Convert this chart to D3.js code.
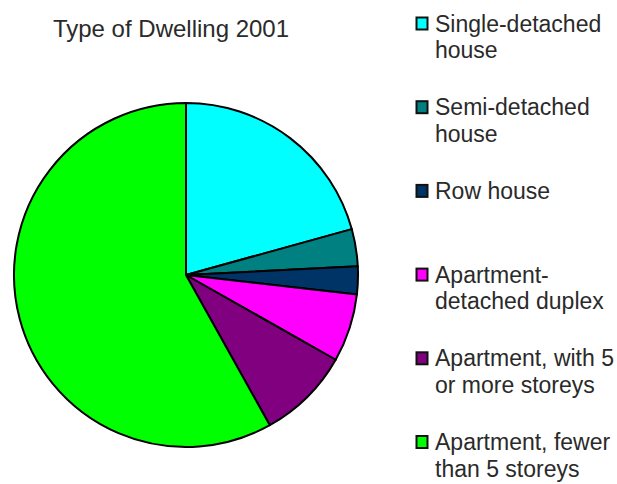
<!DOCTYPE html>
<html>
<head>
<meta charset="utf-8">
<script src="https://cdn.jsdelivr.net/npm/d3@7"></script>
<style>
  html, body { margin: 0; padding: 0; background: #fff; }
  svg { display: block; }
  text { font-family: "Liberation Sans", Arial, sans-serif; fill: #2a2a2a; }
</style>
</head>
<body>
<svg id="chart" width="617" height="484"></svg>
<script>
const title = "Type of Dwelling 2001";
const categories = [
  ["Single-detached", "house"],
  ["Semi-detached", "house"],
  ["Row house"],
  ["Apartment-", "detached duplex"],
  ["Apartment, with 5", "or more storeys"],
  ["Apartment, fewer", "than 5 storeys"]
];
const values = [20.7, 3.5, 2.6, 6.4, 8.7, 58.1];
const colors = ["#00FFFF", "#008080", "#003366", "#FF00FF", "#800080", "#00FF00"];

const svg = d3.select("#chart");
const cx = 186, cy = 275, r = 172;

svg.append("text")
  .attr("x", 171).attr("y", 37)
  .attr("text-anchor", "middle")
  .attr("font-size", 24)
  .text(title);

const pie = d3.pie().sort(null).value(d => d)(values);
const arc = d3.arc().innerRadius(0).outerRadius(r);

svg.append("g")
  .attr("transform", `translate(${cx},${cy})`)
  .selectAll("path")
  .data(pie)
  .join("path")
  .attr("d", arc)
  .attr("fill", (d, i) => colors[i])
  .attr("stroke", "#000")
  .attr("stroke-width", 2)
  .attr("stroke-linejoin", "round");

const legend = svg.append("g");
const y0 = 31.5, step = 83.7, lineH = 26.5;
categories.forEach((lines, i) => {
  const by = y0 + i * step;
  legend.append("rect")
    .attr("x", 416.5).attr("y", by - 14)
    .attr("width", 11).attr("height", 12)
    .attr("fill", colors[i])
    .attr("stroke", "#111")
    .attr("stroke-width", 2);
  const t = legend.append("text")
    .attr("x", 435).attr("y", by)
    .attr("font-size", 23);
  lines.forEach((ln, j) => {
    t.append("tspan").attr("x", 435).attr("y", by + j * lineH).text(ln);
  });
});
</script>
</body>
</html>
